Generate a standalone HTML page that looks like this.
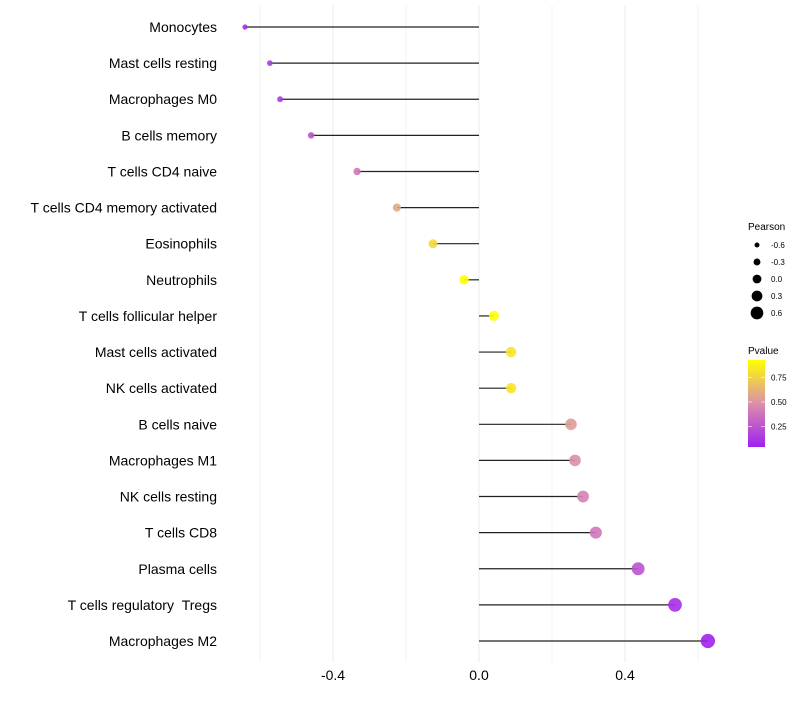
<!DOCTYPE html>
<html><head><meta charset="utf-8"><style>
body{margin:0;background:#fff;font-family:"Liberation Sans",sans-serif}
</style></head><body>
<svg id="c" width="800" height="700" xmlns="http://www.w3.org/2000/svg">
<defs><linearGradient id="pg" x1="0" y1="1" x2="0" y2="0">
<stop offset="0" stop-color="#A020F0"/><stop offset="0.5" stop-color="#DC8FAA"/><stop offset="1" stop-color="#FFFF00"/></linearGradient></defs>
<g id="grid"></g><g id="marks"></g><g id="labels"></g>
<g font-size="9">
<text x="748" y="230" font-size="10">Pearson</text>
<g id="sizeleg"></g>
</g>
<g font-size="9">
<text x="748" y="354" font-size="10">Pvalue</text>
<rect x="748" y="360" width="17" height="87" fill="url(#pg)"/>
<g id="cbticks"></g>
</g>
</svg>
<script>
const categories=["Monocytes","Mast cells resting","Macrophages M0","B cells memory","T cells CD4 naive","T cells CD4 memory activated","Eosinophils","Neutrophils","T cells follicular helper","Mast cells activated","NK cells activated","B cells naive","Macrophages M1","NK cells resting","T cells CD8","Plasma cells","T cells regulatory\u00a0\u00a0Tregs","Macrophages M2"];
const pearson=[-0.641,-0.573,-0.545,-0.46,-0.334,-0.225,-0.126,-0.041,0.041,0.088,0.088,0.252,0.263,0.285,0.32,0.436,0.537,0.627];
const pvalue=[0.1,0.15,0.15,0.25,0.4,0.6,0.8,0.95,0.97,0.85,0.85,0.55,0.5,0.45,0.4,0.25,0.1,0.05];
const xTicks=[-0.4,0.0,0.4];
const xGrid=[-0.6,-0.4,-0.2,0,0.2,0.4,0.6];
const sizeLegend=[-0.6,-0.3,0.0,0.3,0.6];
const pTicks=[0.25,0.5,0.75];
const NS="http://www.w3.org/2000/svg";
const x=v=>479+v*365;
const y=i=>27+i*(614/17);
const r=v=>4.9+3.6*v;
const py=p=>451-p*98;
function lerp(a,b,t){return a.map((v,k)=>Math.round(v+(b[k]-v)*t));}
function col(p){const s=[[160,32,240],[220,143,170],[255,255,0]];const t=Math.max(0,Math.min(1,(p-0.04)/0.92));
const c=t<0.5?lerp(s[0],s[1],t*2):lerp(s[1],s[2],(t-0.5)*2);return `rgb(${c})`;}
function mk(tag,at,par){const e=document.createElementNS(NS,tag);for(const k in at)e.setAttribute(k,at[k]);document.getElementById(par).appendChild(e);return e;}
xGrid.forEach(v=>{const l=mk('line',{x1:x(v),x2:x(v),y1:5,y2:662,stroke:'#ebebeb','stroke-width':xTicks.includes(v)?1:0.6},'grid');

});
xTicks.forEach(v=>{const t=mk('text',{x:x(v),y:680,'text-anchor':'middle','font-size':14,fill:'#000'},'labels');t.textContent=v.toFixed(1);

});
categories.forEach((c,i)=>{
const t=mk('text',{x:217,y:y(i)+5,'text-anchor':'end','font-size':14,fill:'#000'},'labels');t.textContent=c;


const l=mk('line',{x1:x(0),x2:x(pearson[i]),y1:y(i),y2:y(i),stroke:'#222','stroke-width':1.2},'marks');


const d=mk('circle',{cx:x(pearson[i]),cy:y(i),r:r(pearson[i]),fill:col(pvalue[i]),'fill-opacity':0.9},'marks');


});
sizeLegend.forEach((v,i)=>{const cy=245+i*17;
const d=mk('circle',{cx:757,cy:cy,r:r(v)*0.9,fill:'#000'},'sizeleg');


const t=mk('text',{x:771,y:cy+3,'font-size':8},'sizeleg');t.textContent=v.toFixed(1);

});
pTicks.forEach(p=>{
const l=mk('line',{x1:748,x2:752,y1:py(p),y2:py(p),stroke:'#fff','stroke-width':0.6},'cbticks');


const l2=mk('line',{x1:761,x2:765,y1:py(p),y2:py(p),stroke:'#fff','stroke-width':0.6},'cbticks');


const t=mk('text',{x:771,y:py(p)+3,'font-size':8},'cbticks');t.textContent=p.toFixed(2);

});
</script>
</body></html>
